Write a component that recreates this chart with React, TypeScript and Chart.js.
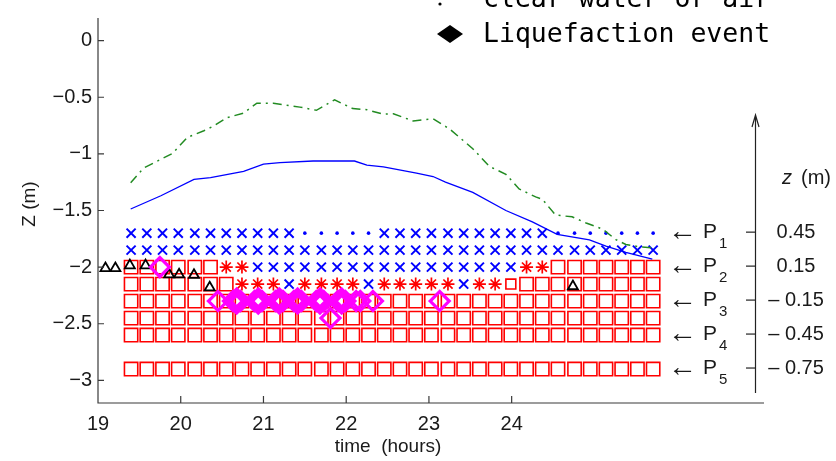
import React, { useEffect, useRef } from "react";
import { Chart, registerables } from "chart.js";

Chart.register(...registerables);

// ---------- data ----------
const X_TICKS = [19, 20, 21, 22, 23, 24];
const Y_TICKS = [0, -0.5, -1, -1.5, -2, -2.5, -3];

// sampling times of the probe state markers (hours)
const TIMES = [
  19.4, 19.59, 19.78, 19.97, 20.17, 20.36, 20.55, 20.74, 20.93, 21.12, 21.31, 21.5,
  21.7, 21.89, 22.08, 22.27, 22.46, 22.65, 22.84, 23.03, 23.23, 23.42, 23.61, 23.8,
  23.99, 24.18, 24.37, 24.56, 24.76, 24.95, 25.14, 25.33, 25.52, 25.71,
];

// elevations of the marker rows (m)
const ROW_Z = [-1.7, -1.85, -2.0, -2.15, -2.3, -2.45, -2.6, -2.9];

// state codes per row: x = cross, d = dot (clear water or air), a = asterisk,
// s = square, S = small square
const ROW_CODES = [
  "xxxxxxxxxxxdddddxxxxxxxxxxxddddddd",
  "xxxxxxxxxxxxxxxxxxxxxxxxxxxxxxxxxx",
  "ssssssaaxxxxxxxxxxxxxxxxxaasssssss",
  "sssssssaaaxaaaaxaaaaaxaaSsssssssss",
  "ssssssssssssssssssssssssssssssssss",
  "ssssssssssssssssssssssssssssssssss",
  "ssssssssssssssssssssssssssssssssss",
  "ssssssssssssssssssssssssssssssssss",
];

// solid blue line
const SOLID_T = [
  19.395, 19.76, 20.16, 20.36, 20.76, 21.0, 21.2, 21.6, 22.1, 22.25, 22.45, 22.85,
  23.05, 23.2, 23.53, 23.93, 24.25, 24.55, 24.94, 25.14, 25.38, 25.7,
];
const SOLID_Z = [
  -1.487, -1.37, -1.226, -1.21, -1.155, -1.09, -1.077, -1.063, -1.063, -1.1, -1.115,
  -1.17, -1.2, -1.25, -1.34, -1.5, -1.6, -1.71, -1.76, -1.814, -1.87, -1.93,
];

// dash-dot green line
const DASHDOT_T = [
  19.395, 19.55, 19.78, 19.9, 20.08, 20.28, 20.4, 20.56, 20.76, 20.92, 21.12, 21.44,
  21.64, 21.86, 22.08, 22.25, 22.45, 22.57, 22.81, 23.05, 23.25, 23.53, 23.73, 23.93,
  24.09, 24.29, 24.37, 24.53, 24.73, 24.9, 25.1, 25.26, 25.38, 25.54, 25.7,
];
const DASHDOT_Z = [
  -1.255, -1.126, -1.04, -0.997, -0.854, -0.796, -0.753, -0.68, -0.64, -0.552, -0.552,
  -0.587, -0.615, -0.523, -0.6, -0.61, -0.65, -0.645, -0.71, -0.69, -0.78, -0.954,
  -1.11, -1.18, -1.31, -1.38, -1.4, -1.54, -1.556, -1.61, -1.665, -1.757, -1.8, -1.82,
  -1.83,
];

// black triangles
const TRI_T = [19.09, 19.21, 19.385, 19.575, 19.86, 19.98, 20.16, 20.35, 24.74];
const TRI_Z = [-2.01, -2.01, -1.985, -1.985, -2.065, -2.065, -2.07, -2.18, -2.17];

// liquefaction events (magenta diamonds)
const LIQ_T = [
  19.748,
  20.45,
  20.631, 20.676, 20.721, 20.676, 20.676,
  20.892, 20.937, 20.982, 20.937, 20.937,
  21.146, 21.191, 21.236, 21.191, 21.191,
  21.368, 21.413, 21.458, 21.413, 21.413,
  21.638, 21.683, 21.728, 21.683, 21.683,
  21.9, 21.945, 21.99, 21.945, 21.945,
  22.12, 22.17, 22.323,
  21.81,
  23.13,
];
const LIQ_Z = [
  -2.0,
  -2.3,
  -2.3, -2.3, -2.3, -2.278, -2.322,
  -2.3, -2.3, -2.3, -2.278, -2.322,
  -2.3, -2.3, -2.3, -2.278, -2.322,
  -2.3, -2.3, -2.3, -2.278, -2.322,
  -2.3, -2.3, -2.3, -2.278, -2.322,
  -2.3, -2.3, -2.3, -2.278, -2.322,
  -2.3, -2.3, -2.3,
  -2.45,
  -2.3,
];

// right-hand probe annotation
const PROBE_Z = [-1.7, -2.0, -2.3, -2.6, -2.9];
const PROBE_NAMES = ["1", "2", "3", "4", "5"];
const PROBE_DEPTHS = ["0.45", "0.15", "\u2013 0.15", "\u2013 0.45", "\u2013 0.75"];

const LEGEND_LINES = ["clear water or air", "Liquefaction event"];

// ---------- styles ----------
const RED = "#ff0000";
const BLUE = "#0000ff";
const MAGENTA = "#ff00ff";
const GREEN = "#228b22";
const AXIS = "#3a3a3a";
const SANS = '"Liberation Sans", Arial, Helvetica, sans-serif';

const CODE_STYLE: Record<string, any> = {
  s: { pointStyle: "rect", r: 9.4, color: RED, w: 1.6, order: 6, fill: false },
  S: { pointStyle: "rect", r: 7, color: RED, w: 1.6, order: 6, fill: false },
  a: { pointStyle: "star", r: 6.5, color: RED, w: 1.7, order: 4, fill: false },
  x: { pointStyle: "crossRot", r: 6.4, color: BLUE, w: 2, order: 4, fill: false },
  d: { pointStyle: "circle", r: 1.8, color: BLUE, w: 0, order: 4, fill: true },
};

function buildDatasets() {
  const sets: any[] = [];
  for (const code of Object.keys(CODE_STYLE)) {
    const st = CODE_STYLE[code];
    const data: { x: number; y: number }[] = [];
    ROW_CODES.forEach((row, r) => {
      for (let i = 0; i < row.length; i++) {
        if (row[i] === code) data.push({ x: TIMES[i], y: ROW_Z[r] });
      }
    });
    sets.push({
      type: "scatter",
      data,
      showLine: false,
      pointStyle: st.pointStyle,
      pointRadius: st.r,
      pointHoverRadius: st.r,
      pointBorderColor: st.color,
      pointBackgroundColor: st.fill ? st.color : "rgba(0,0,0,0)",
      pointBorderWidth: st.w,
      order: st.order,
    });
  }
  sets.push({
    type: "scatter",
    data: TRI_T.map((t, i) => ({ x: t, y: TRI_Z[i] })),
    showLine: false,
    pointStyle: "triangle",
    pointRadius: 5.8,
    pointHoverRadius: 5.8,
    pointBorderColor: "#000",
    pointBackgroundColor: "rgba(0,0,0,0)",
    pointBorderWidth: 1.8,
    order: 3,
  });
  sets.push({
    type: "scatter",
    data: LIQ_T.map((t, i) => ({ x: t, y: LIQ_Z[i] })),
    showLine: false,
    pointStyle: "rectRot",
    pointRadius: 9.5,
    pointHoverRadius: 9.5,
    pointBorderColor: MAGENTA,
    pointBackgroundColor: "rgba(0,0,0,0)",
    pointBorderWidth: 3.2,
    order: 2,
  });
  sets.push({
    type: "scatter",
    data: SOLID_T.map((t, i) => ({ x: t, y: SOLID_Z[i] })),
    showLine: true,
    borderColor: BLUE,
    borderWidth: 1.3,
    pointRadius: 0,
    tension: 0,
    fill: false,
    order: 1,
  });
  sets.push({
    type: "scatter",
    data: DASHDOT_T.map((t, i) => ({ x: t, y: DASHDOT_Z[i] })),
    showLine: true,
    borderColor: GREEN,
    borderWidth: 1.5,
    borderDash: [9, 5, 2, 5],
    pointRadius: 0,
    tension: 0,
    fill: false,
    order: 0,
  });
  return sets;
}

const decorPlugin = {
  id: "decor",
  afterDraw(chart: any) {
    const { ctx, chartArea: a, scales } = chart;
    const xs = scales.x;
    const ys = scales.y;
    ctx.save();
    // axes lines + inward ticks
    ctx.strokeStyle = AXIS;
    ctx.lineWidth = 1.2;
    ctx.beginPath();
    ctx.moveTo(a.left, a.top);
    ctx.lineTo(a.left, a.bottom);
    ctx.lineTo(a.right, a.bottom);
    for (const v of Y_TICKS) {
      const y = ys.getPixelForValue(v);
      ctx.moveTo(a.left, y);
      ctx.lineTo(a.left + 6, y);
    }
    for (const v of X_TICKS) {
      const x = xs.getPixelForValue(v);
      ctx.moveTo(x, a.bottom);
      ctx.lineTo(x, a.bottom - 7);
    }
    ctx.stroke();

    // axis titles
    ctx.fillStyle = "#1a1a1a";
    ctx.font = `19px ${SANS}`;
    ctx.textAlign = "center";
    ctx.textBaseline = "middle";
    ctx.fillText("time  (hours)", 388, 447);
    ctx.save();
    ctx.translate(30, 204);
    ctx.rotate(-Math.PI / 2);
    ctx.fillText("Z (m)", 0, 0);
    ctx.restore();

    // right-hand z axis with arrow
    const ax = 755.5;
    ctx.strokeStyle = "#222";
    ctx.lineWidth = 1.2;
    ctx.beginPath();
    ctx.moveTo(ax, 393);
    ctx.lineTo(ax, 115);
    ctx.moveTo(ax - 3.5, 127);
    ctx.lineTo(ax, 115);
    ctx.lineTo(ax + 3.5, 127);
    ctx.stroke();

    ctx.fillStyle = "#1a1a1a";
    ctx.textBaseline = "middle";
    PROBE_Z.forEach((z, k) => {
      const y = ys.getPixelForValue(z) - 1;
      ctx.beginPath();
      ctx.moveTo(746, y);
      ctx.lineTo(ax, y);
      ctx.stroke();
      ctx.textAlign = "left";
      ctx.font = `29px ${SANS}`;
      ctx.fillText("\u2190", 668, y);
      ctx.font = `21px ${SANS}`;
      ctx.fillText("P", 703, y);
      ctx.font = `15px ${SANS}`;
      ctx.fillText(PROBE_NAMES[k], 719, y + 12);
      ctx.textAlign = "center";
      ctx.font = `20px ${SANS}`;
      ctx.fillText(PROBE_DEPTHS[k], 796, y);
    });
    ctx.textAlign = "left";
    ctx.font = `italic 20px ${SANS}`;
    ctx.fillText("z", 782, 178);
    ctx.font = `20px ${SANS}`;
    ctx.fillText("(m)", 801, 178);

    // partial legend at the top
    ctx.fillStyle = "#000";
    ctx.beginPath();
    ctx.arc(440, 4, 1.6, 0, Math.PI * 2);
    ctx.fill();
    ctx.beginPath();
    ctx.moveTo(437, 34);
    ctx.lineTo(450, 25);
    ctx.lineTo(463, 34);
    ctx.lineTo(450, 43);
    ctx.closePath();
    ctx.fill();
    ctx.font = '26.5px "DejaVu Sans Mono", "Liberation Mono", monospace';
    ctx.textBaseline = "alphabetic";
    ctx.textAlign = "left";
    ctx.fillText(LEGEND_LINES[0], 483, 7);
    ctx.fillText(LEGEND_LINES[1], 483, 42);
    ctx.restore();
  },
};

export default function App() {
  const ref = useRef<HTMLCanvasElement>(null);
  useEffect(() => {
    if (!ref.current) return;
    const chart = new Chart(ref.current, {
      type: "scatter",
      data: { datasets: buildDatasets() },
      options: {
        animation: false,
        responsive: false,
        events: [],
        layout: { padding: { left: 0, top: 9, right: 72, bottom: 0 } },
        plugins: {
          legend: { display: false },
          tooltip: { enabled: false },
        },
        scales: {
          x: {
            type: "linear",
            min: 19,
            max: 27.05,
            grid: { display: false, drawTicks: false },
            border: { display: false },
            afterBuildTicks: (s: any) => {
              s.ticks = X_TICKS.map((v) => ({ value: v }));
            },
            afterFit: (s: any) => {
              s.height = 58;
            },
            ticks: {
              autoSkip: false,
              maxRotation: 0,
              padding: 9,
              color: "#1a1a1a",
              font: { family: SANS, size: 20 },
              callback: (v: any) => String(v),
            },
          },
          y: {
            type: "linear",
            min: -3.2,
            max: 0.2,
            grid: { display: false, drawTicks: false },
            border: { display: false },
            afterBuildTicks: (s: any) => {
              s.ticks = Y_TICKS.map((v) => ({ value: v }));
            },
            afterFit: (s: any) => {
              s.width = 98;
            },
            ticks: {
              autoSkip: false,
              padding: 6,
              color: "#1a1a1a",
              font: { family: SANS, size: 20 },
              callback: (v: any) => (v === 0 ? "0" : "\u2212" + String(Math.abs(v))),
            },
          },
        },
      },
      plugins: [decorPlugin],
    } as any);
    return () => chart.destroy();
  }, []);
  return (
    <div style={{ position: "fixed", left: 0, top: 0, width: 836, height: 461, background: "#fff" }}>
      <canvas ref={ref} width={836} height={461} style={{ display: "block", width: 836, height: 461 }} />
    </div>
  );
}
